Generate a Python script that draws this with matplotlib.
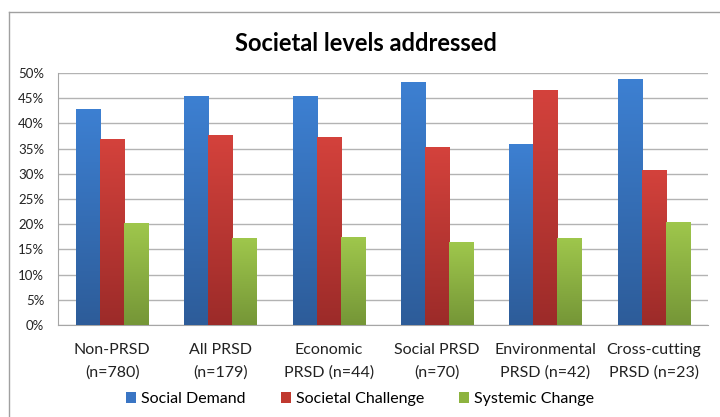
import numpy as np
import matplotlib
matplotlib.use("Agg")
import matplotlib.pyplot as plt
from matplotlib.colors import LinearSegmentedColormap
from matplotlib.lines import Line2D
from matplotlib.patches import Patch

plt.rcParams['font.family'] = ['Lato', 'DejaVu Sans']

categories = ["Non-PRSD\n(n=780)", "All PRSD\n(n=179)", "Economic\nPRSD (n=44)",
              "Social PRSD\n(n=70)", "Environmental\nPRSD (n=42)", "Cross-cutting\nPRSD (n=23)"]
social_demand = [42.9, 45.4, 45.4, 48.3, 36.0, 48.8]
societal_challenge = [36.9, 37.6, 37.3, 35.3, 46.7, 30.8]
systemic_change = [20.2, 17.2, 17.4, 16.4, 17.3, 20.5]
series_names = ["Social Demand", "Societal Challenge", "Systemic Change"]
yticks = [0, 5, 10, 15, 20, 25, 30, 35, 40, 45, 50]

# (top colour, bottom colour) for the gradient fill
grad = [("#3d80d2", "#2d5c99"), ("#d4423c", "#9c2b29"), ("#9fc74c", "#759637")]
solid = ["#3a75c4", "#c0392f", "#8db33f"]

fig = plt.figure(figsize=(7.2, 4.17), dpi=100)
ax = fig.add_axes([0.0806, 0.2206, 0.9024, 0.6044])

x = np.arange(len(categories))
w = 0.222
grad_img = np.linspace(0, 1, 256).reshape(-1, 1)
for k, vals in enumerate([social_demand, societal_challenge, systemic_change]):
    bars = ax.bar(x + (k - 1) * w, vals, w, color=solid[k], zorder=2, linewidth=0)
    cmap = LinearSegmentedColormap.from_list("g%d" % k, [grad[k][0], grad[k][1]])
    for b in bars:
        x0, y0 = b.get_x(), b.get_y()
        im = ax.imshow(grad_img, cmap=cmap, aspect="auto", zorder=3,
                       extent=[x0, x0 + b.get_width(), y0, y0 + b.get_height()],
                       origin="upper")
        im.set_clip_path(b)

ax.set_xlim(-0.5, len(categories) - 0.5)
ax.set_ylim(0, 50)
ax.set_yticks(yticks)
ax.set_yticklabels(["%d%%" % v for v in yticks], fontsize=9.5, color="#222222")
ax.set_xticks(x)
ax.set_xticklabels(categories, fontsize=11.5, color="#222222", linespacing=1.7)
ax.tick_params(axis="both", length=0)
ax.tick_params(axis="y", pad=10)
ax.tick_params(axis="x", pad=13)
ax.yaxis.grid(True, color="#b3b3b3", linewidth=1.0, zorder=0)
ax.set_axisbelow(True)
for s in ["top", "right"]:
    ax.spines[s].set_visible(False)
ax.spines["left"].set_color("#a6a6a6")
ax.spines["bottom"].set_color("#a6a6a6")

fig.text(0.508, 0.895, "Societal levels addressed", ha="center", va="center",
         fontsize=17, fontweight="bold")

handles = [Patch(facecolor=solid[i], edgecolor="none") for i in range(3)]
fig.legend(handles, series_names, loc="center", bbox_to_anchor=(0.5, 0.043),
           ncol=3, frameon=False, fontsize=11.5, handlelength=0.65, handleheight=0.65,
           handletextpad=0.3, columnspacing=2.2)

# outer chart border (left and top edges visible)
fig.add_artist(Line2D([9 / 720, 9 / 720], [0, 1 - 12 / 417], color="#a0a0a0", lw=1.0))
fig.add_artist(Line2D([9 / 720, 1], [1 - 12 / 417, 1 - 12 / 417], color="#a0a0a0", lw=1.0))

fig.savefig("out.png", dpi=100)
